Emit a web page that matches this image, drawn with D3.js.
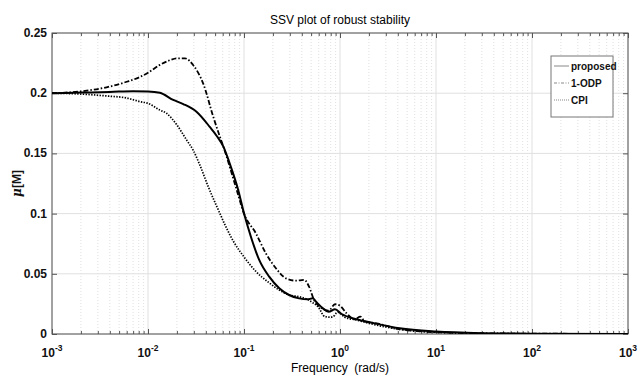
<!DOCTYPE html>
<html><head><meta charset="utf-8">
<script src="https://cdn.jsdelivr.net/npm/d3@7"></script>
<style>
html,body{margin:0;padding:0;background:#fff;}
text{font-family:"Liberation Sans",Arial,sans-serif;white-space:pre;}
</style></head>
<body>
<svg id="c" width="640" height="376"></svg>
<script>
// ---- data ----
const freqProposed = [0.001,0.002,0.004,0.007,0.01,0.0133,0.0183,0.0233,0.032,0.044,0.052,0.061,0.07,0.087,0.1,0.118,0.144,0.183,0.233,0.295,0.375,0.46,0.52,0.56,0.66,0.76,0.887,1.04,1.49,2.14,4.2,10,30,100,1000];
const muProposed   = [0.2,0.2005,0.201,0.2017,0.2015,0.2004,0.1944,0.191,0.1846,0.172,0.1645,0.1556,0.143,0.1196,0.1002,0.0808,0.0615,0.0476,0.038,0.0324,0.0296,0.0288,0.0296,0.027,0.0215,0.0185,0.0205,0.0166,0.0122,0.0094,0.0047,0.002,0.0007,0.0003,0.0001];

const freqODP = [0.001,0.002,0.0037,0.006,0.00826,0.01,0.0133,0.017,0.02,0.0243,0.0295,0.0376,0.048,0.056,0.061,0.084,0.1,0.133,0.169,0.215,0.274,0.347,0.424,0.476,0.537,0.618,0.76,0.887,1.0,1.17,1.42,1.63,1.83,2.4,4.2,10,30,100,1000];
const muODP   = [0.2,0.2015,0.2049,0.2095,0.2135,0.217,0.2235,0.2275,0.229,0.229,0.2234,0.208,0.18,0.164,0.1556,0.1196,0.1,0.0836,0.067,0.0546,0.0462,0.0443,0.0449,0.0393,0.0282,0.0227,0.0194,0.0247,0.0235,0.0172,0.0122,0.0144,0.0102,0.0089,0.0039,0.0015,0.0006,0.0003,0.0001];

const freqCPI = [0.001,0.002,0.0037,0.006,0.00826,0.01,0.0133,0.0156,0.02,0.0253,0.0295,0.0348,0.0426,0.052,0.0775,0.1,0.133,0.183,0.233,0.295,0.375,0.45,0.52,0.59,0.697,0.787,0.85,0.92,0.96,1.12,1.49,2.14,4.2,10,30,100,1000];
const muCPI   = [0.2,0.1993,0.1977,0.196,0.193,0.1916,0.186,0.1833,0.1736,0.161,0.1528,0.14,0.122,0.106,0.077,0.064,0.052,0.0425,0.0365,0.0324,0.031,0.029,0.026,0.0227,0.0144,0.014,0.0145,0.0175,0.018,0.0139,0.0116,0.0083,0.0039,0.0015,0.0005,0.0002,0.0001];

const seriesNames = ["proposed","1-ODP","CPI"];
const xTickExps = [-3,-2,-1,0,1,2,3];
const yTicks = [0,0.05,0.1,0.15,0.2,0.25];
const yTickLabels = ["0","0.05","0.1","0.15","0.2","0.25"];
const titleText = "SSV plot of robust stability";
const xLabel = "Frequency  (rad/s)";

// ---- layout ----
const L=52,R=628,T=33,B=334;
const svg=d3.select("#c");
const x=d3.scaleLog().domain([1e-3,1e3]).range([L,R]);
const y=d3.scaleLinear().domain([0,0.25]).range([B,T]);

const minor=[];
for(let e=-3;e<3;e++){for(let m=2;m<=9;m++)minor.push(m*Math.pow(10,e));}
const major=xTickExps.map(e=>Math.pow(10,e));

const g=svg.append("g");
g.selectAll(".mg").data(minor).join("line")
 .attr("x1",d=>x(d)).attr("x2",d=>x(d)).attr("y1",T).attr("y2",B)
 .attr("stroke","#d8d8d8").attr("stroke-width",0.8).attr("stroke-dasharray","1,2");
g.selectAll(".Mg").data(major).join("line")
 .attr("x1",d=>x(d)).attr("x2",d=>x(d)).attr("y1",T).attr("y2",B)
 .attr("stroke","#e0e0e0").attr("stroke-width",1);
g.selectAll(".yg").data(yTicks).join("line")
 .attr("x1",L).attr("x2",R).attr("y1",d=>y(d)).attr("y2",d=>y(d))
 .attr("stroke","#e0e0e0").attr("stroke-width",1);

const axCol="#555";
function styleAxis(sel){sel.select(".domain").remove();sel.selectAll("line").attr("stroke",axCol);sel.selectAll("text").remove();}
svg.append("g").attr("transform",`translate(0,${B})`).call(d3.axisBottom(x).tickValues(major).tickSizeInner(-5).tickSizeOuter(0)).call(styleAxis);
svg.append("g").attr("transform",`translate(0,${B})`).call(d3.axisBottom(x).tickValues(minor).tickSizeInner(-3).tickSizeOuter(0)).call(styleAxis);
svg.append("g").attr("transform",`translate(0,${T})`).call(d3.axisTop(x).tickValues(major).tickSizeInner(-5).tickSizeOuter(0)).call(styleAxis);
svg.append("g").attr("transform",`translate(0,${T})`).call(d3.axisTop(x).tickValues(minor).tickSizeInner(-3).tickSizeOuter(0)).call(styleAxis);
svg.append("g").attr("transform",`translate(${L},0)`).call(d3.axisLeft(y).tickValues(yTicks).tickSizeInner(-5).tickSizeOuter(0)).call(styleAxis);
svg.append("g").attr("transform",`translate(${R},0)`).call(d3.axisRight(y).tickValues(yTicks).tickSizeInner(-5).tickSizeOuter(0)).call(styleAxis);
svg.append("rect").attr("x",L).attr("y",T).attr("width",R-L).attr("height",B-T)
 .attr("fill","none").attr("stroke",axCol).attr("stroke-width",1);

svg.selectAll(".yl").data(yTicks).join("text")
 .attr("x",L-5).attr("y",d=>y(d)+4).attr("text-anchor","end")
 .attr("font-size",12).attr("font-weight","bold").attr("fill","#111")
 .text((d,i)=>yTickLabels[i]);
const xl=svg.selectAll(".xl").data(xTickExps).join("text")
 .attr("x",d=>x(Math.pow(10,d))).attr("y",357).attr("text-anchor","middle")
 .attr("font-size",12).attr("font-weight","bold").attr("fill","#111");
xl.append("tspan").text("10");
xl.append("tspan").attr("dy",-6).attr("font-size",8.5).text(d=>String(d));

const line=d3.line().x(d=>x(d[0])).y(d=>y(d[1])).curve(d3.curveMonotoneX);
const zip=(a,b)=>a.map((v,i)=>[v,b[i]]);
const series=[
 {pts:zip(freqProposed,muProposed),dash:null,w:2},
 {pts:zip(freqODP,muODP),dash:"5,2,1.5,2",w:1.8},
 {pts:zip(freqCPI,muCPI),dash:"1.4,1.4",w:1.7}
];
svg.append("clipPath").attr("id","cp").append("rect").attr("x",L).attr("y",T).attr("width",R-L).attr("height",B-T);
svg.append("g").attr("clip-path","url(#cp)").selectAll("path").data(series).join("path")
 .attr("d",d=>line(d.pts)).attr("fill","none").attr("stroke","#000")
 .attr("stroke-width",d=>d.w).attr("stroke-dasharray",d=>d.dash);

svg.append("text").attr("x",(L+R)/2).attr("y",24).attr("text-anchor","middle")
 .attr("font-size",12).attr("fill","#000").text(titleText);
svg.append("text").attr("x",(L+R)/2).attr("y",372).attr("text-anchor","middle")
 .attr("font-size",12).attr("fill","#000").text(xLabel);
const yl=svg.append("text").attr("transform",`translate(21,${(T+B)/2}) rotate(-90)`)
 .attr("text-anchor","middle").attr("font-size",12).attr("font-weight","bold").attr("fill","#111");
yl.append("tspan").attr("font-style","italic").attr("font-family","DejaVu Serif").text("μ");
yl.append("tspan").text("[M]");

const lg=svg.append("g");
lg.append("rect").attr("x",551).attr("y",56).attr("width",62).attr("height",61)
 .attr("fill","#fff").attr("stroke","#777").attr("stroke-width",1);
const legDash=[null,"3,1.5,1,1.5","1,1"];
seriesNames.forEach((n,i)=>{
 const yy=66+i*17;
 lg.append("line").attr("x1",554).attr("x2",569).attr("y1",yy).attr("y2",yy)
  .attr("stroke","#888").attr("stroke-width",1).attr("stroke-dasharray",legDash[i]);
 lg.append("text").attr("x",571).attr("y",yy+4).attr("font-size",10).attr("font-weight","bold")
  .attr("fill","#111").text(n);
});
</script>
</body></html>
